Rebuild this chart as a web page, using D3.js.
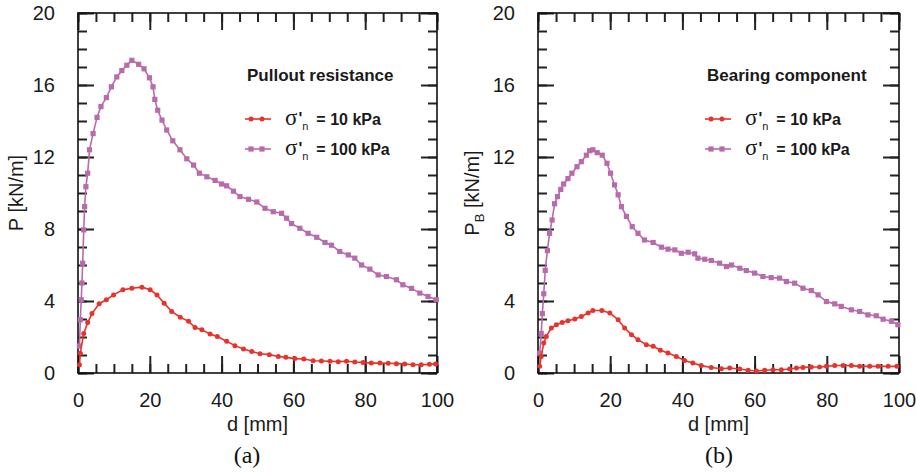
<!DOCTYPE html>
<html>
<head>
<meta charset="utf-8">
<script src="https://cdn.jsdelivr.net/npm/d3@7"></script>
<style>
  html, body { margin: 0; padding: 0; background: #fff; }
  svg { display: block; }
</style>
</head>
<body>
<svg id="chart" width="916" height="472"></svg>
<script>
// ---------- DATA ----------
// Panel (a): Pullout resistance
const dA10 = [0.4,0.65,1.6,2.7,3.9,5.9,7.9,9.9,12.5,15.0,17.8,20.1,22.0,24.0,26.1,28.5,30.8,32.6,34.5,36.8,38.8,41.4,43.7,46.1,48.4,50.7,53.3,55.8,57.9,60.4,62.9,65.5,67.8,70.2,72.5,74.8,77.1,79.4,81.7,84.1,86.4,88.7,91.0,93.3,95.6,97.9,99.6];
const pA10 = [0.46,1.1,2.2,2.8,3.3,3.85,4.07,4.34,4.62,4.71,4.77,4.62,4.34,3.88,3.42,3.1,2.87,2.53,2.4,2.16,2.03,1.76,1.52,1.33,1.2,1.07,1.02,0.92,0.87,0.8,0.78,0.68,0.67,0.65,0.63,0.65,0.61,0.59,0.55,0.55,0.54,0.52,0.5,0.46,0.46,0.48,0.5];
const dA100 = [0.4,0.65,0.9,1.1,1.3,1.6,1.85,2.2,2.7,3.2,4.2,5.3,6.4,7.9,9.3,10.8,12.2,13.6,15.0,16.9,18.4,19.9,20.9,21.4,22.2,23.4,24.7,26.4,28.4,30.3,32.2,33.8,35.9,38.2,40.0,41.4,43.3,45.1,47.5,49.8,52.1,54.4,56.7,58.1,59.5,61.8,64.1,66.5,68.8,70.6,72.9,75.3,77.1,79.0,81.3,83.6,85.9,88.7,90.5,92.9,95.2,97.5,99.8];
const pA100 = [1.5,2.96,4.07,5.0,6.1,7.95,9.24,10.35,11.1,12.4,13.3,14.2,14.8,15.3,15.9,16.45,16.8,17.1,17.37,17.15,16.9,16.4,15.9,15.2,14.6,14.05,13.5,12.9,12.4,11.9,11.55,11.1,10.9,10.7,10.5,10.4,10.1,9.8,9.65,9.5,9.15,8.96,8.87,8.6,8.3,8.04,7.76,7.54,7.25,7.1,6.75,6.56,6.38,6.0,5.77,5.45,5.36,5.18,4.9,4.7,4.44,4.25,4.07];

// Panel (b): Bearing component
const dB10 = [0.46,0.9,1.6,2.3,3.7,5.1,6.7,8.3,10.2,12.0,13.9,15.2,17.7,19.9,22.2,24.0,25.9,27.7,30.0,31.9,33.9,36.0,38.3,40.6,42.9,45.2,48.0,50.8,53.1,55.9,58.2,60.5,62.8,65.1,67.4,69.7,71.6,73.4,75.7,78.0,79.9,82.2,84.5,86.8,89.1,91.9,94.2,97.0,99.4];
const pB10 = [0.37,0.92,1.66,2.03,2.5,2.68,2.81,2.9,3.0,3.14,3.33,3.47,3.47,3.33,2.96,2.5,2.13,1.85,1.57,1.48,1.26,1.11,0.92,0.7,0.55,0.41,0.31,0.24,0.28,0.22,0.15,0.11,0.15,0.18,0.18,0.22,0.28,0.31,0.33,0.33,0.37,0.42,0.42,0.41,0.37,0.37,0.37,0.37,0.37];
const dB100 = [0.46,0.9,1.2,1.6,2.0,2.6,3.2,3.9,4.6,5.4,6.3,7.1,8.3,9.4,10.8,12.0,13.4,14.3,15.2,16.4,17.8,19.1,20.1,21.2,22.2,23.1,24.5,26.1,27.7,29.5,31.9,34.2,36.0,37.9,39.7,41.6,43.4,44.3,46.2,48.0,50.3,52.2,53.6,55.9,57.7,60.0,62.3,64.6,66.9,68.8,71.1,73.4,75.7,77.6,79.9,82.2,84.0,86.8,89.1,91.4,93.7,95.6,97.9,99.7];
const pB100 = [1.1,2.2,3.3,4.4,5.7,6.8,7.76,8.5,9.4,9.8,10.2,10.5,10.8,11.1,11.46,11.74,12.1,12.35,12.4,12.24,12.1,11.65,11.1,10.45,9.9,9.24,8.7,8.13,7.76,7.39,7.25,6.99,6.88,6.84,6.65,6.71,6.62,6.38,6.32,6.25,6.1,5.91,6.0,5.82,5.69,5.55,5.36,5.3,5.27,5.08,4.99,4.71,4.58,4.34,3.97,3.84,3.7,3.51,3.42,3.23,3.18,2.99,2.87,2.68];

const xMajorTicks = [0, 20, 40, 60, 80, 100];
const yMajorTicks = [0, 4, 8, 12, 16, 20];
const seriesLabels = ["10 kPa", "100 kPa"];
const panelTitles = ["Pullout resistance", "Bearing component"];
const panelCaptions = ["(a)", "(b)"];

// ---------- STYLE ----------
const RED = "#e8322c";
const PURPLE = "#b86aab";
const SANS = "'Liberation Sans', Arial, sans-serif";
const SERIF = "'Liberation Serif', 'Times New Roman', serif";

const svg = d3.select("#chart");

function drawPanel(cfg) {
  const g = svg.append("g").style("font-family", SANS);
  const x = d3.scaleLinear().domain([0, 100]).range([cfg.x0, cfg.x1]);
  const y = d3.scaleLinear().domain([0, 20]).range([373, 13]);

  const minorX = d3.range(0, 101, 5);
  const minorY = d3.range(0, 21, 1);
  const tickStyle = sel => {
    sel.select(".domain").remove();
    sel.selectAll(".tick line").attr("stroke", "#222").attr("stroke-width", 2);
    sel.selectAll("text").style("font-family", SANS).attr("font-size", 20).attr("fill", "#1a1a1a");
  };
  g.append("g").attr("transform", `translate(0,373)`)
    .call(d3.axisBottom(x).tickValues(minorX).tickSize(-9).tickFormat("")).call(tickStyle);
  g.append("g").attr("transform", `translate(0,13)`)
    .call(d3.axisTop(x).tickValues(minorX).tickSize(-9).tickFormat("")).call(tickStyle);
  g.append("g").attr("transform", `translate(${cfg.x0},0)`)
    .call(d3.axisLeft(y).tickValues(minorY).tickSize(-9).tickFormat("")).call(tickStyle);
  g.append("g").attr("transform", `translate(${cfg.x1},0)`)
    .call(d3.axisRight(y).tickValues(minorY).tickSize(-9).tickFormat("")).call(tickStyle);

  g.append("g").attr("transform", `translate(0,373)`)
    .call(d3.axisBottom(x).tickValues(xMajorTicks).tickSize(-17).tickPadding(20)).call(tickStyle);
  g.append("g").attr("transform", `translate(0,13)`)
    .call(d3.axisTop(x).tickValues(xMajorTicks).tickSize(-17).tickFormat("")).call(tickStyle);
  g.append("g").attr("transform", `translate(${cfg.x0},0)`)
    .call(d3.axisLeft(y).tickValues(yMajorTicks).tickSize(-16).tickPadding(23)).call(tickStyle);
  g.append("g").attr("transform", `translate(${cfg.x1},0)`)
    .call(d3.axisRight(y).tickValues(yMajorTicks).tickSize(-16).tickFormat("")).call(tickStyle);

  g.append("rect").attr("x", cfg.x0).attr("y", 13)
    .attr("width", cfg.x1 - cfg.x0).attr("height", 360)
    .attr("fill", "none").attr("stroke", "#111").attr("stroke-width", 1.6);

  const line = d3.line().x(d => x(d[0])).y(d => y(d[1]));
  const s10 = d3.zip(cfg.d10, cfg.p10);
  const s100 = d3.zip(cfg.d100, cfg.p100);

  g.append("path").datum(s100).attr("d", line).attr("fill", "none")
    .attr("stroke", PURPLE).attr("stroke-width", 1.6);
  g.selectAll("rect.m100").data(s100).enter().append("rect")
    .attr("class", "m100")
    .attr("x", d => x(d[0]) - 2.6).attr("y", d => y(d[1]) - 2.6)
    .attr("width", 5.2).attr("height", 5.2).attr("fill", PURPLE);
  g.append("path").datum(s10).attr("d", line).attr("fill", "none")
    .attr("stroke", RED).attr("stroke-width", 1.6);
  g.selectAll("circle.m10").data(s10).enter().append("circle")
    .attr("class", "m10")
    .attr("cx", d => x(d[0])).attr("cy", d => y(d[1])).attr("r", 2.5).attr("fill", RED);

  // legend
  const lx = cfg.x0 + 168;
  g.append("text").attr("x", lx + 1).attr("y", 81).attr("fill", "#1a1a1a")
    .attr("font-size", 17).attr("font-weight", "bold").text(cfg.title);
  const entries = [{c: RED, y: 119, label: seriesLabels[0], m: "c"},
                   {c: PURPLE, y: 149, label: seriesLabels[1], m: "s"}];
  entries.forEach(e => {
    g.append("line").attr("x1", lx - 1).attr("x2", lx + 25).attr("y1", e.y).attr("y2", e.y)
      .attr("stroke", e.c).attr("stroke-width", 1.6);
    [lx + 5, lx + 16].forEach(mx => {
      if (e.m === "c") g.append("circle").attr("cx", mx).attr("cy", e.y).attr("r", 2.5).attr("fill", e.c);
      else g.append("rect").attr("x", mx - 2.6).attr("y", e.y - 2.6).attr("width", 5.2).attr("height", 5.2).attr("fill", e.c);
    });
    const t = g.append("text").attr("x", lx + 39).attr("y", e.y + 6).attr("fill", "#1a1a1a");
    t.append("tspan").style("font-family", SERIF).attr("font-size", 23).text("σ");
    t.append("tspan").attr("font-size", 16).attr("font-weight", "bold").attr("dx", 1).attr("dy", -1).text("'");
    t.append("tspan").attr("font-size", 11).attr("dx", 0).attr("dy", 6).text("n");
    t.append("tspan").attr("font-size", 16).attr("font-weight", "bold").attr("dx", 8).attr("dy", -5)
      .text("= " + e.label);
  });

  // axis titles
  g.append("text").attr("x", (cfg.x0 + cfg.x1) / 2).attr("y", 431).attr("fill", "#1a1a1a")
    .attr("text-anchor", "middle").attr("font-size", 20).text("d [mm]");
  const yt = g.append("text").attr("fill", "#1a1a1a")
    .attr("transform", `translate(${cfg.yTitleX},193) rotate(-90)`)
    .attr("text-anchor", "middle").attr("font-size", 20);
  yt.append("tspan").text("P");
  if (cfg.sub) {
    yt.append("tspan").attr("font-size", 13).attr("dy", 5).text(cfg.sub);
    yt.append("tspan").attr("dy", -5).text(" [kN/m]");
  } else {
    yt.append("tspan").text(" [kN/m]");
  }

  // caption
  g.append("text").attr("x", cfg.capX).attr("y", 463).attr("text-anchor", "middle")
    .style("font-family", SERIF).attr("font-size", 24)
    .attr("fill", "#111").text(cfg.caption);
}

drawPanel({x0: 78, x1: 437, d10: dA10, p10: pA10, d100: dA100, p100: pA100,
  title: panelTitles[0], caption: panelCaptions[0], capX: 247, yTitleX: 23, sub: null});
drawPanel({x0: 538, x1: 899, d10: dB10, p10: pB10, d100: dB100, p100: pB100,
  title: panelTitles[1], caption: panelCaptions[1], capX: 719, yTitleX: 479, sub: "B"});
</script>
</body>
</html>
